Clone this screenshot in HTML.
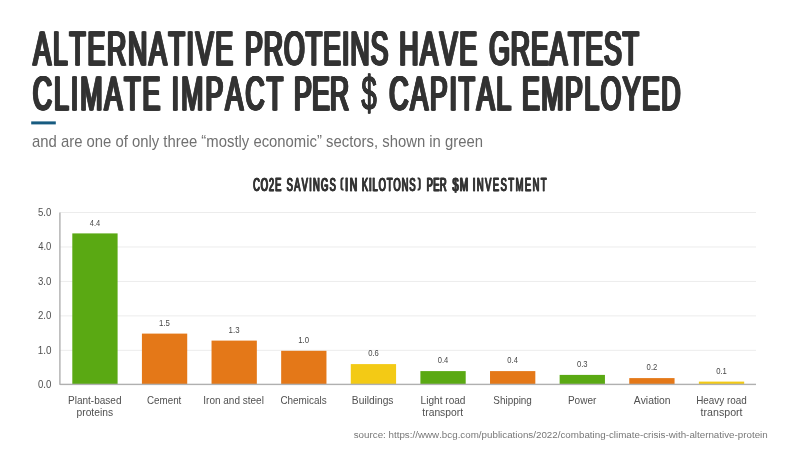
<!DOCTYPE html><html><head><meta charset="utf-8"><style>html,body{margin:0;padding:0;background:#fff;width:800px;height:450px;overflow:hidden}svg{display:block;will-change:transform}</style></head><body><svg width="800" height="450" viewBox="0 0 800 450">
<rect width="800" height="450" fill="#fff"/>
<text transform="translate(32.348,64.900) scale(0.5500,1)" font-family="Liberation Sans, sans-serif" font-weight="normal" font-size="48.5" letter-spacing="3.177" style="font-kerning:none" fill="#333" stroke="#333" stroke-width="0.8" vector-effect="non-scaling-stroke">ALTERNATIVE</text><text transform="translate(32.823,64.900) scale(0.5500,1)" font-family="Liberation Sans, sans-serif" font-weight="normal" font-size="48.5" letter-spacing="3.177" style="font-kerning:none" fill="#333" stroke="#333" stroke-width="0.8" vector-effect="non-scaling-stroke">ALTERNATIVE</text><text transform="translate(33.298,64.900) scale(0.5500,1)" font-family="Liberation Sans, sans-serif" font-weight="normal" font-size="48.5" letter-spacing="3.177" style="font-kerning:none" fill="#333" stroke="#333" stroke-width="0.8" vector-effect="non-scaling-stroke">ALTERNATIVE</text><text transform="translate(33.773,64.900) scale(0.5500,1)" font-family="Liberation Sans, sans-serif" font-weight="normal" font-size="48.5" letter-spacing="3.177" style="font-kerning:none" fill="#333" stroke="#333" stroke-width="0.8" vector-effect="non-scaling-stroke">ALTERNATIVE</text><text transform="translate(34.248,64.900) scale(0.5500,1)" font-family="Liberation Sans, sans-serif" font-weight="normal" font-size="48.5" letter-spacing="3.177" style="font-kerning:none" fill="#333" stroke="#333" stroke-width="0.8" vector-effect="non-scaling-stroke">ALTERNATIVE</text>
<text transform="translate(244.012,64.900) scale(0.5500,1)" font-family="Liberation Sans, sans-serif" font-weight="normal" font-size="48.5" letter-spacing="1.858" style="font-kerning:none" fill="#333" stroke="#333" stroke-width="0.8" vector-effect="non-scaling-stroke">PROTEINS</text><text transform="translate(244.487,64.900) scale(0.5500,1)" font-family="Liberation Sans, sans-serif" font-weight="normal" font-size="48.5" letter-spacing="1.858" style="font-kerning:none" fill="#333" stroke="#333" stroke-width="0.8" vector-effect="non-scaling-stroke">PROTEINS</text><text transform="translate(244.962,64.900) scale(0.5500,1)" font-family="Liberation Sans, sans-serif" font-weight="normal" font-size="48.5" letter-spacing="1.858" style="font-kerning:none" fill="#333" stroke="#333" stroke-width="0.8" vector-effect="non-scaling-stroke">PROTEINS</text><text transform="translate(245.437,64.900) scale(0.5500,1)" font-family="Liberation Sans, sans-serif" font-weight="normal" font-size="48.5" letter-spacing="1.858" style="font-kerning:none" fill="#333" stroke="#333" stroke-width="0.8" vector-effect="non-scaling-stroke">PROTEINS</text><text transform="translate(245.912,64.900) scale(0.5500,1)" font-family="Liberation Sans, sans-serif" font-weight="normal" font-size="48.5" letter-spacing="1.858" style="font-kerning:none" fill="#333" stroke="#333" stroke-width="0.8" vector-effect="non-scaling-stroke">PROTEINS</text>
<text transform="translate(398.312,64.900) scale(0.5500,1)" font-family="Liberation Sans, sans-serif" font-weight="normal" font-size="48.5" letter-spacing="3.148" style="font-kerning:none" fill="#333" stroke="#333" stroke-width="0.8" vector-effect="non-scaling-stroke">HAVE</text><text transform="translate(398.787,64.900) scale(0.5500,1)" font-family="Liberation Sans, sans-serif" font-weight="normal" font-size="48.5" letter-spacing="3.148" style="font-kerning:none" fill="#333" stroke="#333" stroke-width="0.8" vector-effect="non-scaling-stroke">HAVE</text><text transform="translate(399.262,64.900) scale(0.5500,1)" font-family="Liberation Sans, sans-serif" font-weight="normal" font-size="48.5" letter-spacing="3.148" style="font-kerning:none" fill="#333" stroke="#333" stroke-width="0.8" vector-effect="non-scaling-stroke">HAVE</text><text transform="translate(399.737,64.900) scale(0.5500,1)" font-family="Liberation Sans, sans-serif" font-weight="normal" font-size="48.5" letter-spacing="3.148" style="font-kerning:none" fill="#333" stroke="#333" stroke-width="0.8" vector-effect="non-scaling-stroke">HAVE</text><text transform="translate(400.212,64.900) scale(0.5500,1)" font-family="Liberation Sans, sans-serif" font-weight="normal" font-size="48.5" letter-spacing="3.148" style="font-kerning:none" fill="#333" stroke="#333" stroke-width="0.8" vector-effect="non-scaling-stroke">HAVE</text>
<text transform="translate(488.258,64.900) scale(0.5500,1)" font-family="Liberation Sans, sans-serif" font-weight="normal" font-size="48.5" letter-spacing="1.555" style="font-kerning:none" fill="#333" stroke="#333" stroke-width="0.8" vector-effect="non-scaling-stroke">GREATEST</text><text transform="translate(488.733,64.900) scale(0.5500,1)" font-family="Liberation Sans, sans-serif" font-weight="normal" font-size="48.5" letter-spacing="1.555" style="font-kerning:none" fill="#333" stroke="#333" stroke-width="0.8" vector-effect="non-scaling-stroke">GREATEST</text><text transform="translate(489.208,64.900) scale(0.5500,1)" font-family="Liberation Sans, sans-serif" font-weight="normal" font-size="48.5" letter-spacing="1.555" style="font-kerning:none" fill="#333" stroke="#333" stroke-width="0.8" vector-effect="non-scaling-stroke">GREATEST</text><text transform="translate(489.683,64.900) scale(0.5500,1)" font-family="Liberation Sans, sans-serif" font-weight="normal" font-size="48.5" letter-spacing="1.555" style="font-kerning:none" fill="#333" stroke="#333" stroke-width="0.8" vector-effect="non-scaling-stroke">GREATEST</text><text transform="translate(490.158,64.900) scale(0.5500,1)" font-family="Liberation Sans, sans-serif" font-weight="normal" font-size="48.5" letter-spacing="1.555" style="font-kerning:none" fill="#333" stroke="#333" stroke-width="0.8" vector-effect="non-scaling-stroke">GREATEST</text>
<text transform="translate(31.845,109.800) scale(0.5500,1)" font-family="Liberation Sans, sans-serif" font-weight="normal" font-size="48.5" letter-spacing="3.604" style="font-kerning:none" fill="#333" stroke="#333" stroke-width="0.8" vector-effect="non-scaling-stroke">CLIMATE</text><text transform="translate(32.320,109.800) scale(0.5500,1)" font-family="Liberation Sans, sans-serif" font-weight="normal" font-size="48.5" letter-spacing="3.604" style="font-kerning:none" fill="#333" stroke="#333" stroke-width="0.8" vector-effect="non-scaling-stroke">CLIMATE</text><text transform="translate(32.795,109.800) scale(0.5500,1)" font-family="Liberation Sans, sans-serif" font-weight="normal" font-size="48.5" letter-spacing="3.604" style="font-kerning:none" fill="#333" stroke="#333" stroke-width="0.8" vector-effect="non-scaling-stroke">CLIMATE</text><text transform="translate(33.270,109.800) scale(0.5500,1)" font-family="Liberation Sans, sans-serif" font-weight="normal" font-size="48.5" letter-spacing="3.604" style="font-kerning:none" fill="#333" stroke="#333" stroke-width="0.8" vector-effect="non-scaling-stroke">CLIMATE</text><text transform="translate(33.745,109.800) scale(0.5500,1)" font-family="Liberation Sans, sans-serif" font-weight="normal" font-size="48.5" letter-spacing="3.604" style="font-kerning:none" fill="#333" stroke="#333" stroke-width="0.8" vector-effect="non-scaling-stroke">CLIMATE</text>
<text transform="translate(170.638,109.800) scale(0.5500,1)" font-family="Liberation Sans, sans-serif" font-weight="normal" font-size="48.5" letter-spacing="3.891" style="font-kerning:none" fill="#333" stroke="#333" stroke-width="0.8" vector-effect="non-scaling-stroke">IMPACT</text><text transform="translate(171.113,109.800) scale(0.5500,1)" font-family="Liberation Sans, sans-serif" font-weight="normal" font-size="48.5" letter-spacing="3.891" style="font-kerning:none" fill="#333" stroke="#333" stroke-width="0.8" vector-effect="non-scaling-stroke">IMPACT</text><text transform="translate(171.588,109.800) scale(0.5500,1)" font-family="Liberation Sans, sans-serif" font-weight="normal" font-size="48.5" letter-spacing="3.891" style="font-kerning:none" fill="#333" stroke="#333" stroke-width="0.8" vector-effect="non-scaling-stroke">IMPACT</text><text transform="translate(172.063,109.800) scale(0.5500,1)" font-family="Liberation Sans, sans-serif" font-weight="normal" font-size="48.5" letter-spacing="3.891" style="font-kerning:none" fill="#333" stroke="#333" stroke-width="0.8" vector-effect="non-scaling-stroke">IMPACT</text><text transform="translate(172.538,109.800) scale(0.5500,1)" font-family="Liberation Sans, sans-serif" font-weight="normal" font-size="48.5" letter-spacing="3.891" style="font-kerning:none" fill="#333" stroke="#333" stroke-width="0.8" vector-effect="non-scaling-stroke">IMPACT</text>
<text transform="translate(293.012,109.800) scale(0.5500,1)" font-family="Liberation Sans, sans-serif" font-weight="normal" font-size="48.5" letter-spacing="0.343" style="font-kerning:none" fill="#333" stroke="#333" stroke-width="0.8" vector-effect="non-scaling-stroke">PER</text><text transform="translate(293.487,109.800) scale(0.5500,1)" font-family="Liberation Sans, sans-serif" font-weight="normal" font-size="48.5" letter-spacing="0.343" style="font-kerning:none" fill="#333" stroke="#333" stroke-width="0.8" vector-effect="non-scaling-stroke">PER</text><text transform="translate(293.962,109.800) scale(0.5500,1)" font-family="Liberation Sans, sans-serif" font-weight="normal" font-size="48.5" letter-spacing="0.343" style="font-kerning:none" fill="#333" stroke="#333" stroke-width="0.8" vector-effect="non-scaling-stroke">PER</text><text transform="translate(294.437,109.800) scale(0.5500,1)" font-family="Liberation Sans, sans-serif" font-weight="normal" font-size="48.5" letter-spacing="0.343" style="font-kerning:none" fill="#333" stroke="#333" stroke-width="0.8" vector-effect="non-scaling-stroke">PER</text><text transform="translate(294.912,109.800) scale(0.5500,1)" font-family="Liberation Sans, sans-serif" font-weight="normal" font-size="48.5" letter-spacing="0.343" style="font-kerning:none" fill="#333" stroke="#333" stroke-width="0.8" vector-effect="non-scaling-stroke">PER</text>
<text transform="translate(361.308,109.800) scale(0.5609,1)" font-family="Liberation Sans, sans-serif" font-weight="normal" font-size="48.5" letter-spacing="0.000" style="font-kerning:none" fill="#333" stroke="#333" stroke-width="0.8" vector-effect="non-scaling-stroke">$</text><text transform="translate(361.558,109.800) scale(0.5609,1)" font-family="Liberation Sans, sans-serif" font-weight="normal" font-size="48.5" letter-spacing="0.000" style="font-kerning:none" fill="#333" stroke="#333" stroke-width="0.8" vector-effect="non-scaling-stroke">$</text><text transform="translate(361.808,109.800) scale(0.5609,1)" font-family="Liberation Sans, sans-serif" font-weight="normal" font-size="48.5" letter-spacing="0.000" style="font-kerning:none" fill="#333" stroke="#333" stroke-width="0.8" vector-effect="non-scaling-stroke">$</text>
<text transform="translate(388.345,109.800) scale(0.5500,1)" font-family="Liberation Sans, sans-serif" font-weight="normal" font-size="48.5" letter-spacing="3.230" style="font-kerning:none" fill="#333" stroke="#333" stroke-width="0.8" vector-effect="non-scaling-stroke">CAPITAL</text><text transform="translate(388.820,109.800) scale(0.5500,1)" font-family="Liberation Sans, sans-serif" font-weight="normal" font-size="48.5" letter-spacing="3.230" style="font-kerning:none" fill="#333" stroke="#333" stroke-width="0.8" vector-effect="non-scaling-stroke">CAPITAL</text><text transform="translate(389.295,109.800) scale(0.5500,1)" font-family="Liberation Sans, sans-serif" font-weight="normal" font-size="48.5" letter-spacing="3.230" style="font-kerning:none" fill="#333" stroke="#333" stroke-width="0.8" vector-effect="non-scaling-stroke">CAPITAL</text><text transform="translate(389.770,109.800) scale(0.5500,1)" font-family="Liberation Sans, sans-serif" font-weight="normal" font-size="48.5" letter-spacing="3.230" style="font-kerning:none" fill="#333" stroke="#333" stroke-width="0.8" vector-effect="non-scaling-stroke">CAPITAL</text><text transform="translate(390.245,109.800) scale(0.5500,1)" font-family="Liberation Sans, sans-serif" font-weight="normal" font-size="48.5" letter-spacing="3.230" style="font-kerning:none" fill="#333" stroke="#333" stroke-width="0.8" vector-effect="non-scaling-stroke">CAPITAL</text>
<text transform="translate(521.112,109.800) scale(0.5500,1)" font-family="Liberation Sans, sans-serif" font-weight="normal" font-size="48.5" letter-spacing="2.683" style="font-kerning:none" fill="#333" stroke="#333" stroke-width="0.8" vector-effect="non-scaling-stroke">EMPLOYED</text><text transform="translate(521.587,109.800) scale(0.5500,1)" font-family="Liberation Sans, sans-serif" font-weight="normal" font-size="48.5" letter-spacing="2.683" style="font-kerning:none" fill="#333" stroke="#333" stroke-width="0.8" vector-effect="non-scaling-stroke">EMPLOYED</text><text transform="translate(522.062,109.800) scale(0.5500,1)" font-family="Liberation Sans, sans-serif" font-weight="normal" font-size="48.5" letter-spacing="2.683" style="font-kerning:none" fill="#333" stroke="#333" stroke-width="0.8" vector-effect="non-scaling-stroke">EMPLOYED</text><text transform="translate(522.537,109.800) scale(0.5500,1)" font-family="Liberation Sans, sans-serif" font-weight="normal" font-size="48.5" letter-spacing="2.683" style="font-kerning:none" fill="#333" stroke="#333" stroke-width="0.8" vector-effect="non-scaling-stroke">EMPLOYED</text><text transform="translate(523.012,109.800) scale(0.5500,1)" font-family="Liberation Sans, sans-serif" font-weight="normal" font-size="48.5" letter-spacing="2.683" style="font-kerning:none" fill="#333" stroke="#333" stroke-width="0.8" vector-effect="non-scaling-stroke">EMPLOYED</text>
<rect x="31.2" y="121.4" width="24.6" height="3" fill="#175b80"/>
<text x="32" y="147.1" font-family="Liberation Sans, sans-serif" font-size="16.4" fill="#707070" textLength="451" lengthAdjust="spacingAndGlyphs">and are one of only three “mostly economic” sectors, shown in green</text>
<text transform="translate(252.725,190.700) scale(0.5000,1)" font-family="Liberation Sans, sans-serif" font-weight="normal" font-size="18.7" letter-spacing="1.810" style="font-kerning:none" fill="#333" stroke="#333" stroke-width="0.4" vector-effect="non-scaling-stroke">CO2E</text><text transform="translate(253.125,190.700) scale(0.5000,1)" font-family="Liberation Sans, sans-serif" font-weight="normal" font-size="18.7" letter-spacing="1.810" style="font-kerning:none" fill="#333" stroke="#333" stroke-width="0.4" vector-effect="non-scaling-stroke">CO2E</text><text transform="translate(253.525,190.700) scale(0.5000,1)" font-family="Liberation Sans, sans-serif" font-weight="normal" font-size="18.7" letter-spacing="1.810" style="font-kerning:none" fill="#333" stroke="#333" stroke-width="0.4" vector-effect="non-scaling-stroke">CO2E</text>
<text transform="translate(286.275,190.700) scale(0.5000,1)" font-family="Liberation Sans, sans-serif" font-weight="normal" font-size="18.7" letter-spacing="2.528" style="font-kerning:none" fill="#333" stroke="#333" stroke-width="0.4" vector-effect="non-scaling-stroke">SAVINGS</text><text transform="translate(286.675,190.700) scale(0.5000,1)" font-family="Liberation Sans, sans-serif" font-weight="normal" font-size="18.7" letter-spacing="2.528" style="font-kerning:none" fill="#333" stroke="#333" stroke-width="0.4" vector-effect="non-scaling-stroke">SAVINGS</text><text transform="translate(287.075,190.700) scale(0.5000,1)" font-family="Liberation Sans, sans-serif" font-weight="normal" font-size="18.7" letter-spacing="2.528" style="font-kerning:none" fill="#333" stroke="#333" stroke-width="0.4" vector-effect="non-scaling-stroke">SAVINGS</text>
<text transform="translate(344.612,190.700) scale(0.6307,1)" font-family="Liberation Sans, sans-serif" font-weight="normal" font-size="18.7" letter-spacing="0.000" style="font-kerning:none" fill="#333" stroke="#333" stroke-width="0.4" vector-effect="non-scaling-stroke">I</text><text transform="translate(345.012,190.700) scale(0.6307,1)" font-family="Liberation Sans, sans-serif" font-weight="normal" font-size="18.7" letter-spacing="0.000" style="font-kerning:none" fill="#333" stroke="#333" stroke-width="0.4" vector-effect="non-scaling-stroke">I</text><text transform="translate(345.412,190.700) scale(0.6307,1)" font-family="Liberation Sans, sans-serif" font-weight="normal" font-size="18.7" letter-spacing="0.000" style="font-kerning:none" fill="#333" stroke="#333" stroke-width="0.4" vector-effect="non-scaling-stroke">I</text>
<text transform="translate(349.348,190.700) scale(0.5553,1)" font-family="Liberation Sans, sans-serif" font-weight="normal" font-size="18.7" letter-spacing="0.000" style="font-kerning:none" fill="#333" stroke="#333" stroke-width="0.4" vector-effect="non-scaling-stroke">N</text><text transform="translate(349.748,190.700) scale(0.5553,1)" font-family="Liberation Sans, sans-serif" font-weight="normal" font-size="18.7" letter-spacing="0.000" style="font-kerning:none" fill="#333" stroke="#333" stroke-width="0.4" vector-effect="non-scaling-stroke">N</text><text transform="translate(350.148,190.700) scale(0.5553,1)" font-family="Liberation Sans, sans-serif" font-weight="normal" font-size="18.7" letter-spacing="0.000" style="font-kerning:none" fill="#333" stroke="#333" stroke-width="0.4" vector-effect="non-scaling-stroke">N</text>
<text transform="translate(361.433,190.700) scale(0.5000,1)" font-family="Liberation Sans, sans-serif" font-weight="normal" font-size="18.7" letter-spacing="1.862" style="font-kerning:none" fill="#333" stroke="#333" stroke-width="0.4" vector-effect="non-scaling-stroke">KILOTONS</text><text transform="translate(361.833,190.700) scale(0.5000,1)" font-family="Liberation Sans, sans-serif" font-weight="normal" font-size="18.7" letter-spacing="1.862" style="font-kerning:none" fill="#333" stroke="#333" stroke-width="0.4" vector-effect="non-scaling-stroke">KILOTONS</text><text transform="translate(362.233,190.700) scale(0.5000,1)" font-family="Liberation Sans, sans-serif" font-weight="normal" font-size="18.7" letter-spacing="1.862" style="font-kerning:none" fill="#333" stroke="#333" stroke-width="0.4" vector-effect="non-scaling-stroke">KILOTONS</text>
<text transform="translate(426.233,190.700) scale(0.5000,1)" font-family="Liberation Sans, sans-serif" font-weight="normal" font-size="18.7" letter-spacing="0.776" style="font-kerning:none" fill="#333" stroke="#333" stroke-width="0.4" vector-effect="non-scaling-stroke">PER</text><text transform="translate(426.633,190.700) scale(0.5000,1)" font-family="Liberation Sans, sans-serif" font-weight="normal" font-size="18.7" letter-spacing="0.776" style="font-kerning:none" fill="#333" stroke="#333" stroke-width="0.4" vector-effect="non-scaling-stroke">PER</text><text transform="translate(427.033,190.700) scale(0.5000,1)" font-family="Liberation Sans, sans-serif" font-weight="normal" font-size="18.7" letter-spacing="0.776" style="font-kerning:none" fill="#333" stroke="#333" stroke-width="0.4" vector-effect="non-scaling-stroke">PER</text>
<text transform="translate(452.082,190.700) scale(0.5860,1)" font-family="Liberation Sans, sans-serif" font-weight="normal" font-size="18.7" letter-spacing="0.000" style="font-kerning:none" fill="#333" stroke="#333" stroke-width="0.4" vector-effect="non-scaling-stroke">$</text><text transform="translate(452.482,190.700) scale(0.5860,1)" font-family="Liberation Sans, sans-serif" font-weight="normal" font-size="18.7" letter-spacing="0.000" style="font-kerning:none" fill="#333" stroke="#333" stroke-width="0.4" vector-effect="non-scaling-stroke">$</text><text transform="translate(452.882,190.700) scale(0.5860,1)" font-family="Liberation Sans, sans-serif" font-weight="normal" font-size="18.7" letter-spacing="0.000" style="font-kerning:none" fill="#333" stroke="#333" stroke-width="0.4" vector-effect="non-scaling-stroke">$</text>
<text transform="translate(459.366,190.700) scale(0.5436,1)" font-family="Liberation Sans, sans-serif" font-weight="normal" font-size="18.7" letter-spacing="0.000" style="font-kerning:none" fill="#333" stroke="#333" stroke-width="0.4" vector-effect="non-scaling-stroke">M</text><text transform="translate(459.766,190.700) scale(0.5436,1)" font-family="Liberation Sans, sans-serif" font-weight="normal" font-size="18.7" letter-spacing="0.000" style="font-kerning:none" fill="#333" stroke="#333" stroke-width="0.4" vector-effect="non-scaling-stroke">M</text><text transform="translate(460.166,190.700) scale(0.5436,1)" font-family="Liberation Sans, sans-serif" font-weight="normal" font-size="18.7" letter-spacing="0.000" style="font-kerning:none" fill="#333" stroke="#333" stroke-width="0.4" vector-effect="non-scaling-stroke">M</text>
<text transform="translate(472.337,190.700) scale(0.5000,1)" font-family="Liberation Sans, sans-serif" font-weight="normal" font-size="18.7" letter-spacing="3.026" style="font-kerning:none" fill="#333" stroke="#333" stroke-width="0.4" vector-effect="non-scaling-stroke">INVESTMENT</text><text transform="translate(472.737,190.700) scale(0.5000,1)" font-family="Liberation Sans, sans-serif" font-weight="normal" font-size="18.7" letter-spacing="3.026" style="font-kerning:none" fill="#333" stroke="#333" stroke-width="0.4" vector-effect="non-scaling-stroke">INVESTMENT</text><text transform="translate(473.137,190.700) scale(0.5000,1)" font-family="Liberation Sans, sans-serif" font-weight="normal" font-size="18.7" letter-spacing="3.026" style="font-kerning:none" fill="#333" stroke="#333" stroke-width="0.4" vector-effect="non-scaling-stroke">INVESTMENT</text>
<path d="M343.6 178.3 Q341.4 178.3 341.4 180.6 L341.4 187.4 Q341.4 189.7 343.6 189.7" fill="none" stroke="#333" stroke-width="2"/>
<path d="M417.6 178.3 Q419.8 178.3 419.8 180.6 L419.8 187.4 Q419.8 189.7 417.6 189.7" fill="none" stroke="#333" stroke-width="2"/>
<rect x="60" y="349.84" width="696" height="1" fill="#ececec"/>
<rect x="60" y="315.38" width="696" height="1" fill="#ececec"/>
<rect x="60" y="280.92" width="696" height="1" fill="#ececec"/>
<rect x="60" y="246.46" width="696" height="1" fill="#ececec"/>
<rect x="60" y="212.00" width="696" height="1" fill="#ececec"/>
<text transform="translate(38.025,388.200) scale(0.9060,1)" font-family="Liberation Sans, sans-serif" font-weight="normal" font-size="10.6" style="font-kerning:none" fill="#505050">0.0</text>
<text transform="translate(37.647,353.740) scale(0.9324,1)" font-family="Liberation Sans, sans-serif" font-weight="normal" font-size="10.6" style="font-kerning:none" fill="#505050">1.0</text>
<text transform="translate(37.913,319.280) scale(0.9138,1)" font-family="Liberation Sans, sans-serif" font-weight="normal" font-size="10.6" style="font-kerning:none" fill="#505050">2.0</text>
<text transform="translate(38.035,284.820) scale(0.9053,1)" font-family="Liberation Sans, sans-serif" font-weight="normal" font-size="10.6" style="font-kerning:none" fill="#505050">3.0</text>
<text transform="translate(38.182,250.360) scale(0.8950,1)" font-family="Liberation Sans, sans-serif" font-weight="normal" font-size="10.6" style="font-kerning:none" fill="#505050">4.0</text>
<text transform="translate(38.015,215.900) scale(0.9067,1)" font-family="Liberation Sans, sans-serif" font-weight="normal" font-size="10.6" style="font-kerning:none" fill="#505050">5.0</text>
<rect x="72.30" y="233.40" width="45.3" height="151.00" fill="#5aa913"/>
<text transform="translate(89.778,225.700) scale(0.8691,1)" font-family="Liberation Sans, sans-serif" font-weight="normal" font-size="8.6" style="font-kerning:none" fill="#484848">4.4</text>
<text transform="translate(67.975,404.200) scale(0.9143,1)" font-family="Liberation Sans, sans-serif" font-weight="normal" font-size="11" style="font-kerning:none" fill="#505050">Plant-based</text>
<text transform="translate(76.538,415.900) scale(0.9335,1)" font-family="Liberation Sans, sans-serif" font-weight="normal" font-size="11" style="font-kerning:none" fill="#505050">proteins</text>
<rect x="141.92" y="333.60" width="45.3" height="50.80" fill="#e47818"/>
<text transform="translate(158.971,325.900) scale(0.9142,1)" font-family="Liberation Sans, sans-serif" font-weight="normal" font-size="8.6" style="font-kerning:none" fill="#484848">1.5</text>
<text transform="translate(147.002,404.200) scale(0.8924,1)" font-family="Liberation Sans, sans-serif" font-weight="normal" font-size="11" style="font-kerning:none" fill="#505050">Cement</text>
<rect x="211.54" y="340.60" width="45.3" height="43.80" fill="#e47818"/>
<text transform="translate(228.590,332.900) scale(0.9156,1)" font-family="Liberation Sans, sans-serif" font-weight="normal" font-size="8.6" style="font-kerning:none" fill="#484848">1.3</text>
<text transform="translate(203.276,404.200) scale(0.9106,1)" font-family="Liberation Sans, sans-serif" font-weight="normal" font-size="11" style="font-kerning:none" fill="#505050">Iron and steel</text>
<rect x="281.16" y="350.80" width="45.3" height="33.60" fill="#e47818"/>
<text transform="translate(298.213,343.100) scale(0.9121,1)" font-family="Liberation Sans, sans-serif" font-weight="normal" font-size="8.6" style="font-kerning:none" fill="#484848">1.0</text>
<text transform="translate(280.396,404.200) scale(0.9029,1)" font-family="Liberation Sans, sans-serif" font-weight="normal" font-size="11" style="font-kerning:none" fill="#505050">Chemicals</text>
<rect x="350.78" y="364.10" width="45.3" height="20.30" fill="#f3ca15"/>
<text transform="translate(368.131,356.400) scale(0.8896,1)" font-family="Liberation Sans, sans-serif" font-weight="normal" font-size="8.6" style="font-kerning:none" fill="#484848">0.6</text>
<text transform="translate(351.857,404.200) scale(0.9345,1)" font-family="Liberation Sans, sans-serif" font-weight="normal" font-size="11" style="font-kerning:none" fill="#505050">Buildings</text>
<rect x="420.40" y="371.10" width="45.3" height="13.30" fill="#5aa913"/>
<text transform="translate(437.754,363.400) scale(0.8797,1)" font-family="Liberation Sans, sans-serif" font-weight="normal" font-size="8.6" style="font-kerning:none" fill="#484848">0.4</text>
<text transform="translate(420.570,404.200) scale(0.9194,1)" font-family="Liberation Sans, sans-serif" font-weight="normal" font-size="11" style="font-kerning:none" fill="#505050">Light road</text>
<text transform="translate(422.344,415.900) scale(0.9383,1)" font-family="Liberation Sans, sans-serif" font-weight="normal" font-size="11" style="font-kerning:none" fill="#505050">transport</text>
<rect x="490.02" y="371.10" width="45.3" height="13.30" fill="#e47818"/>
<text transform="translate(507.374,363.400) scale(0.8797,1)" font-family="Liberation Sans, sans-serif" font-weight="normal" font-size="8.6" style="font-kerning:none" fill="#484848">0.4</text>
<text transform="translate(493.300,404.200) scale(0.9013,1)" font-family="Liberation Sans, sans-serif" font-weight="normal" font-size="11" style="font-kerning:none" fill="#505050">Shipping</text>
<rect x="559.64" y="374.90" width="45.3" height="9.50" fill="#5aa913"/>
<text transform="translate(576.991,367.200) scale(0.8896,1)" font-family="Liberation Sans, sans-serif" font-weight="normal" font-size="8.6" style="font-kerning:none" fill="#484848">0.3</text>
<text transform="translate(567.925,404.200) scale(0.9138,1)" font-family="Liberation Sans, sans-serif" font-weight="normal" font-size="11" style="font-kerning:none" fill="#505050">Power</text>
<rect x="629.26" y="378.10" width="45.3" height="6.30" fill="#e47818"/>
<text transform="translate(646.610,370.400) scale(0.8939,1)" font-family="Liberation Sans, sans-serif" font-weight="normal" font-size="8.6" style="font-kerning:none" fill="#484848">0.2</text>
<text transform="translate(633.730,404.200) scale(0.9441,1)" font-family="Liberation Sans, sans-serif" font-weight="normal" font-size="11" style="font-kerning:none" fill="#505050">Aviation</text>
<rect x="698.88" y="381.60" width="45.3" height="2.80" fill="#f3ca15"/>
<text transform="translate(716.230,373.900) scale(0.8929,1)" font-family="Liberation Sans, sans-serif" font-weight="normal" font-size="8.6" style="font-kerning:none" fill="#484848">0.1</text>
<text transform="translate(696.187,404.200) scale(0.9014,1)" font-family="Liberation Sans, sans-serif" font-weight="normal" font-size="11" style="font-kerning:none" fill="#505050">Heavy road</text>
<text transform="translate(700.589,415.900) scale(0.9673,1)" font-family="Liberation Sans, sans-serif" font-weight="normal" font-size="11" style="font-kerning:none" fill="#505050">transport</text>
<rect x="59.2" y="212.50" width="1.4" height="172.30" fill="#b0b0b0"/>
<rect x="60" y="383.7" width="696" height="1.4" fill="#b0b0b0"/>
<text transform="translate(353.727,437.900) scale(1.0314,1)" font-family="Liberation Sans, sans-serif" font-weight="normal" font-size="9.5" style="font-kerning:none" fill="#777777">source: https://www.bcg.com/publications/2022/combating-climate-crisis-with-alternative-protein</text>
</svg></body></html>
